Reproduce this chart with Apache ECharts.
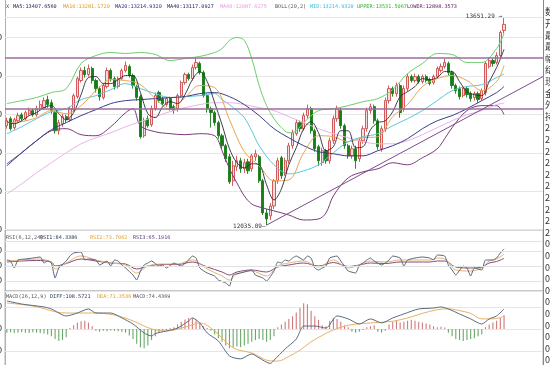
<!DOCTYPE html>
<html><head><meta charset="utf-8">
<script src="https://cdn.jsdelivr.net/npm/echarts@6/dist/echarts.min.js"></script>
<style>html,body{margin:0;padding:0;background:#fff;overflow:hidden}#c{width:550px;height:365px}</style>
</head><body><div id="c"></div>
<script>
// ---------- DATA ----------
// candles: [open, close, low, high]
const ohlc = [
[12811,12850,12788,12874],[12866,12788,12772,12882],[12796,12858,12780,12874],[12850,12890,12835,12913],[12897,12866,12850,12913],
[12866,12913,12850,12929],[12905,12929,12890,12952],[12929,12897,12882,12944],[12897,12944,12882,12968],[12944,12976,12929,13007],
[12952,13007,12937,13031],[13015,12976,12952,13046],[12991,12929,12905,13015],[12913,12772,12749,12929],[12772,12835,12741,12858],
[12827,12882,12803,12905],[12882,12858,12835,12897],[12858,12944,12843,12960],[12937,13046,12921,13062],[13038,13179,13023,13195],
[13164,13242,13148,13265],[13242,13211,13187,13273],[13211,13258,13195,13289],[13258,13164,13140,13273],[13164,13101,13070,13179],
[13101,13038,13007,13117],[13031,13125,13015,13140],[13117,13242,13101,13265],[13242,13179,13156,13258],[13179,13117,13093,13195],
[13117,13179,13101,13195],[13179,13242,13164,13258],[13242,13281,13226,13312],[13273,13203,13187,13289],[13203,13125,13101,13218],
[13117,13031,13007,13132],[13038,12725,12710,13054],[12733,12850,12717,12874],[12866,12811,12796,12890],[12819,12944,12803,12968],
[12944,13046,12929,13070],[13070,13007,12991,13085],[13023,12984,12968,13038],[12976,13023,12960,13038],[13023,12944,12929,13038],
[12960,12929,12905,12976],[12944,13046,12921,13062],[13046,13148,13031,13164],[13148,13211,13132,13226],[13211,13179,13164,13226],
[13179,13265,13164,13289],[13265,13305,13250,13344],[13297,13226,13211,13312],[13226,13046,13031,13242],[13046,12944,12913,13062],
[12944,12913,12796,12960],[12913,12835,12811,12929],[12835,12733,12710,12850],[12733,12655,12631,12749],[12655,12553,12529,12670],
[12569,12373,12357,12592],[12381,12498,12341,12537],[12490,12537,12459,12576],[12537,12475,12443,12561],[12475,12522,12443,12553],
[12529,12459,12435,12553],[12475,12576,12451,12592],[12569,12592,12537,12623],[12569,12381,12365,12584],[12381,12130,12114,12396],
[12130,12083,12035.09,12161],[12107,12185,12075,12208],[12185,12381,12161,12396],[12381,12537,12357,12561],[12561,12420,12396,12576],
[12443,12537,12420,12561],[12537,12655,12514,12678],[12655,12756,12631,12780],[12749,12835,12733,12858],[12835,12788,12764,12850],
[12788,12890,12772,12913],[12890,12944,12866,12976],[12944,12772,12749,12960],[12772,12631,12608,12788],[12647,12537,12498,12662],
[12522,12616,12498,12639],[12616,12537,12514,12631],[12537,12694,12514,12717],[12694,12866,12670,12890],[12866,12944,12843,12968],
[12929,12811,12788,12952],[12811,12655,12631,12827],[12655,12576,12553,12670],[12576,12631,12553,12655],[12631,12537,12475,12655],
[12553,12694,12529,12717],[12694,12788,12670,12811],[12788,12929,12764,12952],[12929,12960,12905,12984],[12960,12850,12827,12976],
[12850,12647,12623,12866],[12631,12788,12608,12811],[12788,13007,12764,13031],[13007,13101,12984,13125],[13101,13062,13038,13117],
[13062,13125,13038,13148],[13125,12913,12874,13140],[12944,13101,12921,13125],[13101,13195,13078,13218],[13195,13164,13148,13211],
[13164,13195,13148,13218],[13195,13156,13140,13211],[13156,13195,13140,13211],[13195,13164,13148,13211],[13171,13140,13125,13187],
[13148,13195,13132,13211],[13195,13258,13179,13273],[13242,13273,13226,13297],[13273,13305,13258,13336],[13297,13226,13203,13312],
[13226,13125,13101,13242],[13125,13085,13062,13140],[13101,13038,13015,13117],[13046,13101,13031,13117],[13101,13054,13031,13117],
[13062,13023,12999,13078],[13031,13062,13007,13078],[13062,13015,12991,13078],[13023,13085,13007,13101],[13070,13297,13046,13312],
[13273,13320,13258,13344],[13320,13297,13273,13336],[13305,13359,13289,13383],[13359,13539,13344,13555],[13555,13602,13531,13651.29]
];
// indicator lines: [candle index, value]
const ma5 = [[0,12843],[2,12827],[4,12850],[6,12890],[8,12913],[10,12952],[12,12968],[14,12905],[16,12858],[18,12913],[20,13054],[22,13187],[24,13195],[26,13140],[28,13140],[30,13171],[32,13203],[34,13203],[36,13070],[38,12905],[40,12874],[42,12960],[44,12999],[46,12984],[48,13054],[50,13171],[52,13234],[54,13156],[56,12991],[58,12819],[60,12631],[62,12522],[64,12482],[66,12514],[68,12506],[70,12349],[72,12232],[74,12318],[76,12506],[78,12639],[80,12788],[82,12843],[84,12756],[86,12616],[88,12647],[90,12772],[92,12772],[94,12639],[96,12647],[98,12780],[100,12835],[102,12850],[104,12921],[106,13038],[108,13077],[110,13117],[112,13179],[114,13171],[116,13187],[118,13234],[120,13234],[122,13156],[124,13077],[126,13054],[128,13046],[130,13156],[132,13265],[134,13407.66]];
const ma10 = [[0,12835],[4,12843],[8,12874],[12,12929],[16,12905],[20,12968],[24,13085],[28,13171],[32,13164],[36,13132],[40,13023],[44,12937],[48,13031],[52,13125],[56,13109],[60,12858],[64,12608],[68,12498],[72,12381],[76,12388],[80,12600],[84,12733],[88,12725],[92,12686],[96,12717],[100,12725],[104,12882],[108,12976],[112,13117],[116,13179],[120,13203],[124,13164],[128,13085],[132,13156],[134,13281.17]];
const bollMid = [[0,12749],[4,12803],[8,12866],[12,12921],[16,12944],[20,13015],[24,13046],[28,13093],[32,13140],[36,13101],[40,13062],[44,13031],[48,13038],[52,13046],[56,13062],[58,13015],[60,12976],[62,12929],[64,12874],[66,12772],[68,12655],[72,12506],[76,12435],[80,12459],[84,12506],[88,12600],[92,12686],[96,12725],[100,12749],[104,12811],[108,12866],[112,12929],[116,13007],[120,13085],[124,13117],[128,13132],[132,13187],[134,13214.93]];
const bollUpper = [[0,12984],[4,13007],[8,13031],[12,13070],[16,13101],[20,13297],[24,13359],[28,13383],[32,13375],[36,13383],[40,13367],[44,13320],[48,13336],[52,13352],[56,13383],[58,13414],[60,13477],[62,13500],[64,13477],[66,13336],[68,13125],[70,12968],[72,12866],[74,12796],[76,12756],[78,12772],[80,12835],[84,12929],[88,12944],[92,12968],[96,12999],[100,13023],[104,13093],[108,13218],[112,13297],[116,13375],[120,13367],[124,13305],[128,13305],[132,13414],[134,13531.51]];
const bollLower = [[0,12514],[4,12600],[8,12694],[12,12772],[16,12788],[20,12741],[24,12733],[28,12803],[32,12913],[34,12944],[36,12811],[40,12764],[44,12749],[48,12741],[52,12749],[56,12733],[58,12616],[60,12475],[62,12365],[64,12263],[66,12200],[68,12177],[72,12146],[76,12114],[80,12075],[84,12083],[86,12130],[88,12263],[92,12404],[96,12451],[100,12475],[104,12522],[108,12506],[112,12561],[116,12631],[118,12710],[120,12796],[124,12929],[128,12968],[132,12968],[134,12898.36]];
const ma40 = [[0,12498],[4,12600],[8,12694],[12,12780],[16,12835],[20,12890],[24,12937],[28,12984],[32,13007],[36,13015],[40,13023],[44,13031],[48,13038],[52,13062],[56,13070],[60,13038],[64,12976],[68,12890],[72,12788],[76,12717],[80,12655],[84,12608],[88,12592],[92,12576],[96,12576],[100,12616],[104,12655],[108,12710],[112,12788],[116,12850],[120,12890],[124,12944],[128,13007],[132,13070],[134,13117.09]];
const ma60 = [[0,12279],[4,12357],[8,12443],[12,12522],[16,12600],[20,12670],[24,12717],[28,12756],[32,12803],[36,12843],[40,12882],[44,12921],[48,12952],[52,12976],[56,12991],[60,12991],[64,12976],[68,12952],[72,12929],[76,12882],[80,12835],[84,12788],[88,12749],[92,12717],[96,12686],[100,12670],[104,12670],[108,12694],[112,12741],[116,12796],[120,12850],[124,12897],[128,12929],[132,12976],[134,12987.63]];
const levelLines = [13340, 12940];
const trendLine = [[70, 12035.09], [144.5, 13195]];

const rsi1 = [[0,62],[1,60],[2,46],[3,62],[5,64],[7,66],[9,68],[10,56],[11,60],[12,56],[13,26],[14,46],[16,60],[17,70],[18,76],[20,78],[21,62],[22,64],[24,62],[25,52],[27,60],[28,50],[29,62],[30,60],[31,52],[32,46],[34,32],[35,22],[36,40],[37,52],[38,56],[39,60],[41,50],[42,52],[43,46],[45,56],[47,50],[49,62],[50,70],[51,66],[52,46],[54,36],[56,30],[57,22],[59,16],[60,10],[61,32],[63,36],[65,40],[66,42],[67,32],[69,26],[70,20],[72,40],[73,58],[74,56],[75,62],[76,60],[77,66],[78,70],[80,62],[81,70],[82,66],[83,46],[84,42],[85,46],[86,50],[87,66],[89,70],[90,60],[91,50],[92,40],[94,36],[95,52],[96,56],[97,62],[98,66],[99,60],[101,52],[103,62],[104,70],[106,66],[107,50],[108,62],[110,66],[112,68],[114,66],[115,62],[116,72],[118,70],[119,52],[120,42],[121,32],[123,50],[124,46],[125,30],[126,46],[128,42],[129,62],[131,62],[132,66],[133,76],[134,84.34]];
const rsi2 = [[0,60],[4,62],[8,64],[12,58],[13,44],[16,56],[20,70],[24,62],[28,56],[32,52],[35,36],[38,50],[42,54],[46,54],[50,62],[54,44],[58,30],[60,22],[62,34],[66,40],[70,30],[73,50],[76,56],[80,60],[84,48],[88,62],[92,46],[95,52],[98,60],[102,58],[106,62],[110,62],[114,62],[116,66],[118,64],[121,42],[125,40],[128,46],[130,60],[132,64],[134,73.71]];
const rsi3 = [[0,58],[4,60],[8,61],[12,58],[13,50],[16,55],[20,64],[24,60],[28,56],[32,54],[35,44],[38,50],[42,53],[46,53],[50,58],[54,48],[58,38],[60,32],[62,38],[66,42],[70,38],[73,48],[76,52],[80,56],[84,50],[88,57],[92,49],[95,52],[98,56],[102,55],[106,58],[110,58],[114,58],[116,60],[118,60],[121,48],[125,46],[128,48],[130,56],[132,59],[134,65.19]];
const rsiLevels = [20, 50, 80, 100];

const macdHist = [
-20,-18,-22,-20,-18,-20,-22,-18,-20,-22,-25,-30,
-40,-55,-65,-60,-45,
5,20,35,42,45,35,15,
-10,-15,-10,-12,-8,-10,-12,-15,-20,
-35,-55,-80,-100,-105,-90,
-60,-40,-20,-10,-5,5,10,
25,40,52,60,58,48,30,
15,5,-10,
-30,-50,-70,-90,-105,-100,-95,-100,-90,-80,-70,
-60,-55,-60,-70,-60,-40,
10,25,40,55,70,
90,115,140,135,
100,70,
50,20,15,
45,60,55,
40,20,10,
-15,-20,-15,
-5,10,15,20,
-15,-20,-10,
25,40,45,35,
40,45,50,45,40,35,30,25,
15,10,12,8,
-20,-40,-55,-60,-65,-60,-55,-50,-40,-30,
10,25,35,45,60,74.44
];
const diff = [[0,153],[4,136],[10,120],[12,109],[16,71],[19,87],[22,109],[24,87],[28,87],[31,60],[34,27],[37,-22],[39,-38],[40,-25],[43,-11],[46,5],[49,44],[50,60],[52,33],[54,-22],[57,-65],[60,-147],[63,-163],[66,-136],[68,-158],[71,-188],[72,-170],[75,-109],[78,-55],[80,16],[83,16],[86,5],[89,71],[92,55],[95,27],[98,55],[101,33],[104,60],[107,82],[111,109],[115,114],[117,120],[119,109],[122,82],[125,55],[128,27],[130,55],[132,71],[134,108.57]];
const dea = [[0,142],[7,125],[16,87],[23,87],[29,76],[34,44],[39,0],[43,-11],[49,16],[52,33],[56,-11],[61,-103],[66,-131],[71,-174],[73,-175],[76,-150],[79,-115],[82,-70],[85,-35],[88,-5],[92,20],[96,30],[100,35],[104,42],[108,60],[112,85],[116,105],[119,110],[122,100],[125,85],[128,55],[131,55],[133,62],[134,71.35]];

const mainLegendText = ['X','MA5:13407.6560','MA10:13281.1720','MA20:13214.9320','MA40:13117.0927','MA60:12987.6275','BOLL(20,2)','MID:13214.9320','UPPER:13531.5067','LOWER:12898.3573'];
const rsiLegendText = ['RSI(6,12,24)','RSI1:84.3386','RSI2:73.7062','RSI3:65.1916'];
const macdLegendText = ['MACD(26,12,9)','DIFF:108.5721','DEA:71.3536','MACD:74.4369'];
const sidePanelText = ['数据','开盘','最高','最低','幅度','结算','现手','金额','外盘','持仓','2','2','2','2','2','2','2','2','2','2','0','0','0','0','0','0','0','0','0','0','0'];

// ---------- LAYOUT / STYLE ----------
const C = {
  ma5:'#2a2a3a', ma10:'#e8a650', mid:'#5cc6dc', ma40:'#3c3c8c', ma60:'#e8b4e8', up:'#6ccf6c', low:'#7a3c7a',
  rsi1:'#56687a', rsi2:'#e4b478', rsi3:'#8a4a78', diff:'#5a6c80', dea:'#eab068'
};
const MONO = '"DejaVu Sans Mono", monospace';
const candleData = ohlc.map((d, i) => [i, d[0], d[1], d[2], d[3]]);
const histData = macdHist.map((v, i) => [i, v]);
let hiIdx = 0, loIdx = 0;
ohlc.forEach((d, i) => { if (d[3] > ohlc[hiIdx][3]) hiIdx = i; if (d[2] < ohlc[loIdx][2]) loIdx = i; });

function texts(list, xs, colors, y) {
  return list.map((t, k) => ({
    type: 'text', x: xs[k], y: y, silent: true,
    style: { text: t, fill: colors[k], font: '5.2px ' + MONO, verticalAlign: 'middle' }
  }));
}
const sideRows = sidePanelText.map((t, k) => ({
  type: 'text', x: 545, y: 12 + k * 11.6, silent: true,
  style: { text: t, fill: '#333', font: '9px "Noto Sans CJK SC"', verticalAlign: 'middle' }
}));

function line(name, data, color, xi, yi, w) {
  return { name, type: 'line', xAxisIndex: xi, yAxisIndex: yi, data, showSymbol: false, smooth: 0.35,
    lineStyle: { color, width: w || 1 }, itemStyle: { color }, silent: true, z: 3 };
}
const xAx = k => ({ type: 'value', gridIndex: k, min: -0.5, max: 144.5, show: false });
const gridBase = { left: 5, width: 538, borderColor: '#b4b4b4', borderWidth: 1, outerBoundsMode: 'none', containLabel: false };
const lbl = { fontSize: 9, color: '#333', margin: 3, fontFamily: 'Liberation Sans' };

const option = {
  animation: false,
  backgroundColor: '#fff',
  grid: [
    Object.assign({ top: 17, height: 212.6, show: false }, gridBase),
    Object.assign({ top: 230, height: 61, show: true }, gridBase),
    Object.assign({ top: 291, height: 82, show: true }, gridBase)
  ],
  xAxis: [xAx(0), xAx(1), xAx(2)],
  yAxis: [
    { type: 'value', gridIndex: 0, min: 12000, max: 13660, interval: 300,
      axisLine: { show: false }, axisTick: { show: false }, axisLabel: Object.assign({ showMaxLabel: false }, lbl),
      splitLine: { lineStyle: { color: '#e6e6e6' } } },
    { type: 'value', gridIndex: 1, min: 0, max: 122, interval: 10,
      axisLine: { show: false }, axisTick: { show: false }, splitLine: { show: false },
      axisLabel: Object.assign({ customValues: [20, 50, 80] }, lbl) },
    { type: 'value', gridIndex: 2, min: -240, max: 207, interval: 120,
      axisLine: { show: false }, axisTick: { show: false }, axisLabel: Object.assign({ showMaxLabel: false }, lbl),
      splitLine: { lineStyle: { color: '#e6e6e6' } } }
  ],
  series: [
    { name: 'K', type: 'candlestick', xAxisIndex: 0, yAxisIndex: 0, data: candleData,
      dimensions: ['idx', 'open', 'close', 'lowest', 'highest'],
      encode: { x: 'idx', y: ['open', 'close', 'lowest', 'highest'] },
      barWidth: 2.7, z: 2,
      itemStyle: { color: '#f7dcdc', color0: '#177d17', borderColor: '#cf4a4a', borderColor0: '#177d17', borderWidth: 0.9 },
      markLine: { silent: true, symbol: 'none', animation: false, label: { show: false },
        data: [
          { yAxis: levelLines[0], lineStyle: { color: '#9c6c9c', width: 1.6, type: 'solid' } },
          { yAxis: levelLines[1], lineStyle: { color: '#9c6c9c', width: 1.6, type: 'solid' } },
          [ { coord: trendLine[0], lineStyle: { color: '#7c4c8c', width: 1, type: 'solid' } }, { coord: trendLine[1] } ]
        ] },
      markPoint: { silent: true, symbol: 'rect', symbolSize: 0.1, itemStyle: { color: 'rgba(0,0,0,0)' },
        label: { show: true, color: '#333', fontFamily: MONO, fontSize: 6 },
        data: [
          { coord: [hiIdx, ohlc[hiIdx][3]], value: ohlc[hiIdx][3],
            label: { position: 'left', distance: 2, offset: [0, -1.5], formatter: p => p.value.toFixed(2) + ' →' } },
          { coord: [loIdx, ohlc[loIdx][2]], value: ohlc[loIdx][2],
            label: { position: 'left', distance: 1, offset: [0, 1], formatter: p => p.value.toFixed(2) + '—' } }
        ] } },
    line('UPPER', bollUpper, C.up, 0, 0),
    line('LOWER', bollLower, C.low, 0, 0),
    line('MID', bollMid, C.mid, 0, 0),
    line('MA60', ma60, C.ma60, 0, 0),
    line('MA40', ma40, C.ma40, 0, 0),
    line('MA10', ma10, C.ma10, 0, 0),
    line('MA5', ma5, C.ma5, 0, 0, 0.9),
    Object.assign(line('RSI3', rsi3, C.rsi3, 1, 1), {
      markLine: { silent: true, symbol: 'none', label: { show: false }, lineStyle: { color: '#e2e2e2', width: 1, type: 'solid' },
        data: rsiLevels.map(v => ({ yAxis: v })) } }),
    line('RSI2', rsi2, C.rsi2, 1, 1),
    Object.assign(line('RSI1', rsi1, C.rsi1, 1, 1), { smooth: 0.15 }),
    { name: 'MACD', type: 'bar', xAxisIndex: 2, yAxisIndex: 2, data: histData, barWidth: 1.1, silent: true,
      itemStyle: { color: p => p.value[1] >= 0 ? '#cf7a7a' : '#6aa86a' } },
    line('DEA', dea, C.dea, 2, 2),
    Object.assign(line('DIFF', diff, C.diff, 2, 2), { smooth: 0.25 })
  ],
  graphic: [].concat(
    texts(mainLegendText, [6, 13, 63, 115, 167, 220, 275, 310, 357, 407],
      ['#555', '#1c1c50', '#e09a28', '#2c2c7a', '#1c1c60', '#e4a0dc', '#555', '#34bede', '#2cb42c', '#5c1c5c'], 7),
    texts(rsiLegendText, [6, 40, 90, 133], ['#555', '#2c3c50', '#e0a030', '#5c3c7c'], 238),
    texts(macdLegendText, [6, 50, 97, 133], ['#555', '#2c3c50', '#e0a030', '#555'], 297),
    [
      { type: 'line', silent: true, shape: { x1: 5.5, y1: 0, x2: 5.5, y2: 365 }, style: { stroke: '#b0b0b0', lineWidth: 1 } },
      { type: 'line', silent: true, shape: { x1: 543.5, y1: 0, x2: 543.5, y2: 365 }, style: { stroke: '#888', lineWidth: 1 } }
    ],
    sideRows
  )
};
const chart = echarts.init(document.getElementById('c'), null, { renderer: 'canvas' });
chart.setOption(option);
</script>
</body></html>
